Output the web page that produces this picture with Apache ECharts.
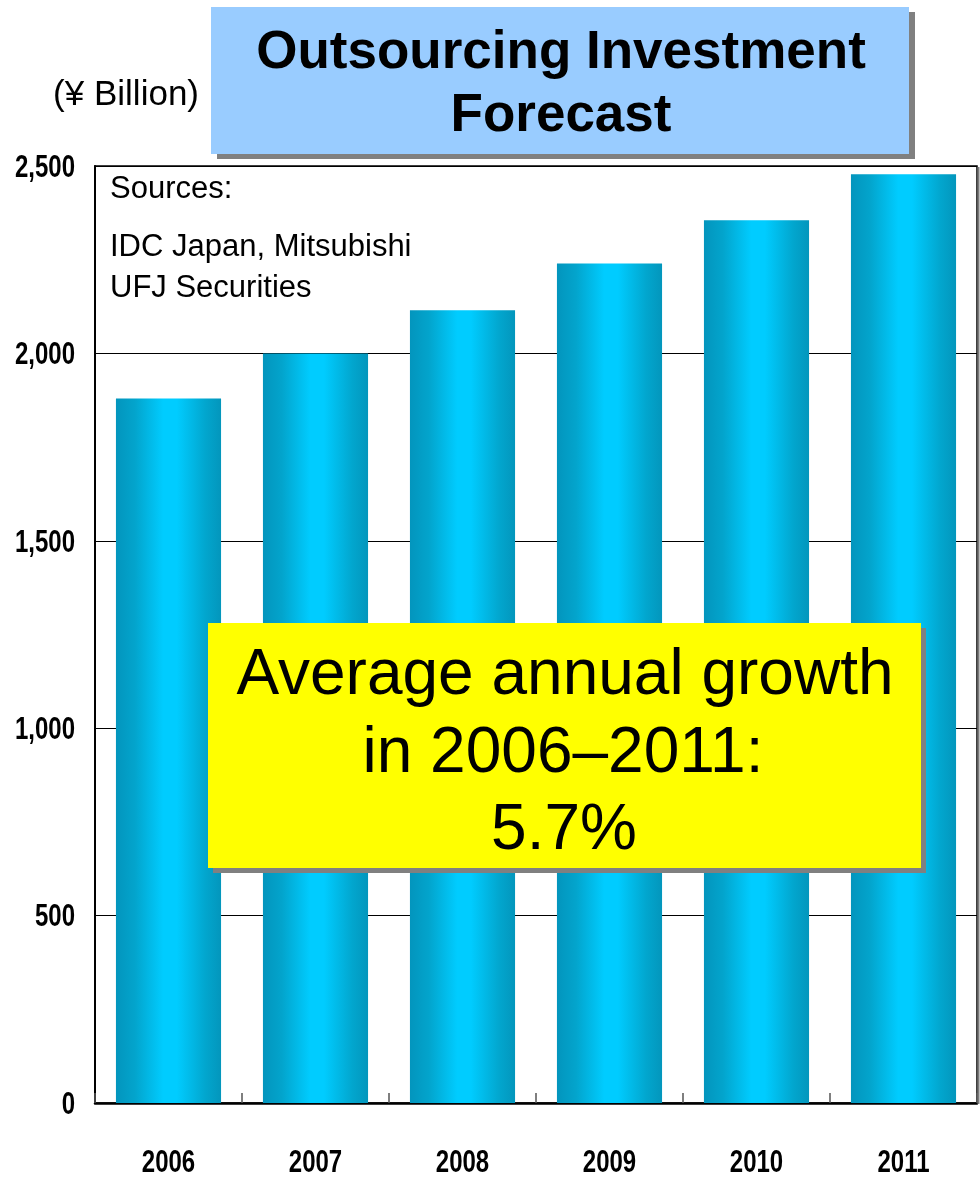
<!DOCTYPE html>
<html>
<head>
<meta charset="utf-8">
<script src="https://cdn.jsdelivr.net/npm/echarts@6/dist/echarts.min.js"></script>
<style>
  html, body { margin: 0; padding: 0; background: #ffffff; }
  #chart { width: 980px; height: 1179px; }
</style>
</head>
<body>
<div id="chart"></div>
<script>
// Outsourcing investment, ¥ billion, by year
const years = ['2006', '2007', '2008', '2009', '2010', '2011'];
const investment = [1880, 2000, 2115, 2240, 2355, 2478];
const yTicks = [0, 500, 1000, 1500, 2000, 2500];
const yTickLabels = ['0', '500', '1,000', '1,500', '2,000', '2,500'];

const titleLines = ['Outsourcing Investment', 'Forecast'];
const unitLabel = '(¥ Billion)';
const sourceLines = ['Sources:', 'IDC Japan, Mitsubishi', 'UFJ Securities'];
const growthLines = ['Average annual growth', 'in 2006\u20132011:', '5.7%'];

const chart = echarts.init(document.getElementById('chart'), null, { renderer: 'canvas' });

const barFill = new echarts.graphic.LinearGradient(0, 0, 1, 0, [
  { offset: 0, color: '#0395BD' },
  { offset: 0.18, color: '#03A4CC' },
  { offset: 0.45, color: '#00CCFF' },
  { offset: 0.58, color: '#00CCFF' },
  { offset: 0.85, color: '#02A6CE' },
  { offset: 1, color: '#0396BC' }
]);

const sans = "'Liberation Sans', Arial, Helvetica, sans-serif";
// axis numbers are set in a bold face squeezed horizontally (narrow style)
const axisFont = "bold 32px " + sans;
const axisSqueeze = 0.75;

const baseGraphics = [
  // shadow on the right edge of the plot frame
  { id: 'frameShadow', type: 'rect', shape: { x: 977.5, y: 167, width: 2, height: 937 }, style: { fill: '#7a7a7a' }, z: 1 },
  // title panel
  { id: 'titleShadow', type: 'rect', shape: { x: 217, y: 12, width: 698, height: 147 }, style: { fill: '#808080' }, z: 10 },
  { id: 'titleBox', type: 'rect', shape: { x: 211, y: 7, width: 698, height: 147 }, style: { fill: '#99CCFF' }, z: 11 },
  { id: 'title1', type: 'text', x: 561, y: 53, z: 12, style: { text: titleLines[0], fill: '#000000', font: "bold 53px " + sans, textAlign: 'center', textVerticalAlign: 'middle' } },
  { id: 'title2', type: 'text', x: 561, y: 116, z: 12, style: { text: titleLines[1], fill: '#000000', font: "bold 53px " + sans, textAlign: 'center', textVerticalAlign: 'middle' } },
  // unit label
  { id: 'unit', type: 'text', x: 199, y: 95, z: 12, style: { text: unitLabel, fill: '#000000', font: "35px " + sans, textAlign: 'right', textVerticalAlign: 'middle' } },
  // sources note
  { id: 'src1', type: 'text', x: 110, y: 189, z: 12, style: { text: sourceLines[0], fill: '#000000', font: "31px " + sans, textAlign: 'left', textVerticalAlign: 'middle' } },
  { id: 'src2', type: 'text', x: 110, y: 247, z: 12, style: { text: sourceLines[1], fill: '#000000', font: "31px " + sans, textAlign: 'left', textVerticalAlign: 'middle' } },
  { id: 'src3', type: 'text', x: 110, y: 288, z: 12, style: { text: sourceLines[2], fill: '#000000', font: "31px " + sans, textAlign: 'left', textVerticalAlign: 'middle' } },
  // growth callout
  { id: 'growthShadow', type: 'rect', shape: { x: 213, y: 628, width: 713, height: 245 }, style: { fill: '#808080' }, z: 10 },
  { id: 'growthBox', type: 'rect', shape: { x: 208, y: 623, width: 713, height: 245 }, style: { fill: '#FFFF00' }, z: 11 },
  { id: 'growth1', type: 'text', x: 565, y: 676, z: 12, style: { text: growthLines[0], fill: '#000000', font: "64px " + sans, textAlign: 'center', textVerticalAlign: 'middle' } },
  { id: 'growth2', type: 'text', x: 563, y: 754, z: 12, style: { text: growthLines[1], fill: '#000000', font: "64px " + sans, textAlign: 'center', textVerticalAlign: 'middle' } },
  { id: 'growth3', type: 'text', x: 564, y: 831, z: 12, style: { text: growthLines[2], fill: '#000000', font: "64px " + sans, textAlign: 'center', textVerticalAlign: 'middle' } }
];

const option = {
  backgroundColor: '#ffffff',
  animation: false,
  grid: {
    left: 95, right: 3, top: 166, bottom: 76,
    show: true, borderColor: '#000000', borderWidth: 1.5,
    containLabel: false,
    outerBoundsMode: 'none'
  },
  xAxis: {
    type: 'category',
    data: years,
    axisLine: { show: true, lineStyle: { color: '#000000', width: 2.5 } },
    axisTick: { show: true, inside: true, length: 10, lineStyle: { color: '#555555', width: 1.5 } },
    axisLabel: { show: false },
    splitLine: { show: false }
  },
  yAxis: {
    type: 'value',
    min: yTicks[0],
    max: yTicks[yTicks.length - 1],
    interval: yTicks[1] - yTicks[0],
    axisLine: { show: true, lineStyle: { color: '#000000', width: 2 } },
    axisTick: { show: false },
    axisLabel: { show: false },
    splitLine: { show: true, lineStyle: { color: '#000000', width: 1.2 } }
  },
  series: [{
    type: 'bar',
    data: investment,
    barCategoryGap: '28.5%',
    itemStyle: { color: barFill },
    z: 2
  }],
  graphic: baseGraphics
};

chart.setOption(option);

// Axis numbers placed through the chart's own coordinate conversion
const labelGraphics = [];
yTicks.forEach((v, i) => {
  const p = chart.convertToPixel({ gridIndex: 0 }, [years[0], v]);
  labelGraphics.push({
    id: 'ylab' + i, type: 'text', x: 75, y: p[1] + 2, scaleX: axisSqueeze, z: 12,
    style: { text: yTickLabels[i], fill: '#000000', font: axisFont, textAlign: 'right', textVerticalAlign: 'middle' }
  });
});
years.forEach((yr, i) => {
  const p = chart.convertToPixel({ gridIndex: 0 }, [yr, 0]);
  labelGraphics.push({
    id: 'xlab' + i, type: 'text', x: p[0], y: p[1] + 60, scaleX: axisSqueeze, z: 12,
    style: { text: yr, fill: '#000000', font: axisFont, textAlign: 'center', textVerticalAlign: 'middle' }
  });
});
chart.setOption({ graphic: labelGraphics });
</script>
</body>
</html>
